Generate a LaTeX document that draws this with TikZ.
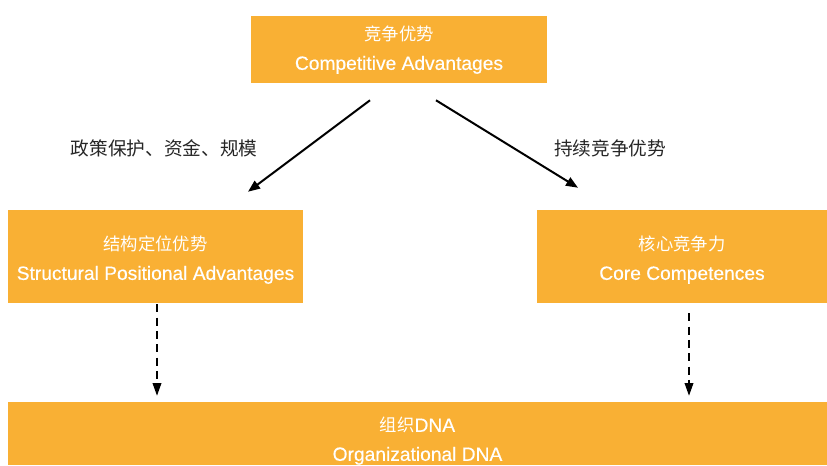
\documentclass[tikz,border=0pt]{standalone}
\usepackage{fontspec}
\setmainfont{Liberation Sans}
\newfontfamily\engfont{Liberation Sans}[FakeBold=0.4]
\newfontfamily\cjk{Noto Sans CJK SC}
\usepackage{xcolor}
\usetikzlibrary{positioning,arrows.meta,calc}
\definecolor{boxorange}{HTML}{F9B034}

\begin{document}
\begin{tikzpicture}[x=0.75pt,y=-0.75pt]\tikzset{
box/.style={fill=boxorange, inner sep=0pt},
txt/.style={text=white, align=center, inner sep=0pt,
font=\engfont\fontsize{14.4}{21.75}\selectfont},
arr/.style={-{Triangle[length=9pt,width=7pt]}, line width=1.5pt},
dasharr/.style={-{Triangle[length=9.5pt,width=6.5pt]}, line width=1.1pt, dash pattern=on 6pt off 4pt},
lbl/.style={text=black!85, font=\cjk\fontsize{14}{16}\selectfont}}
\useasboundingbox (0,0) rectangle (827,465);
% boxes
\node[box, minimum width=222pt, minimum height=50.25pt] (adv) at (399,49.5) {};
\node[box, minimum width=221.25pt, minimum height=69.75pt] (pos) at (155.5,256.5) {};
\node[box, minimum width=217.5pt, minimum height=69.75pt] (core) at (682,256.5) {};
\node[box, minimum width=614.25pt, minimum height=47.25pt] (dna) at (417.5,433.5) {};
\node[txt] (advT) at ($(adv)+(0,0.5)$)
  {{\cjk\fontsize{13}{21.75}\selectfont 竞争优势}\\Competitive Advantages};
\node[txt] (posT) at ($(pos)+(0,3.5)$)
  {{\cjk\fontsize{13}{21.75}\selectfont 结构定位优势}\\Structural Positional Advantages};
\node[txt] (coreT) at ($(core)+(0,3.5)$)
  {{\cjk\fontsize{13}{21.75}\selectfont 核心竞争力}\\Core Competences};
\node[txt] (dnaT) at ($(dna)+(0,7.5)$)
  {{\cjk\fontsize{13}{21.75}\selectfont 组织}DNA\\Organizational DNA};
% arrows
\coordinate (a1) at ($(adv.south)+(-29,17)$);
\coordinate (a2) at ($(pos.north)+(92.5,-18)$);
\coordinate (b1) at ($(adv.south)+(37,17)$);
\coordinate (b2) at ($(core.north)+(-104,-22)$);
\draw[arr] (a1) -- (a2);
\draw[arr] (b1) -- (b2);
\node[lbl] (lpol) at (164,148) {政策保护、资金、规模};
\node[lbl] (lsus) at (610,148) {持续竞争优势};
\coordinate (c1) at ($(pos.south)+(1.5,1)$);
\coordinate (d1) at ($(core.south)+(7,10)$);
\draw[dasharr] (c1) -- (c1 |- {$(dna.north)+(0,-6)$});
\draw[dasharr] (d1) -- (d1 |- {$(dna.north)+(0,-6)$});
\end{tikzpicture}
\end{document}
